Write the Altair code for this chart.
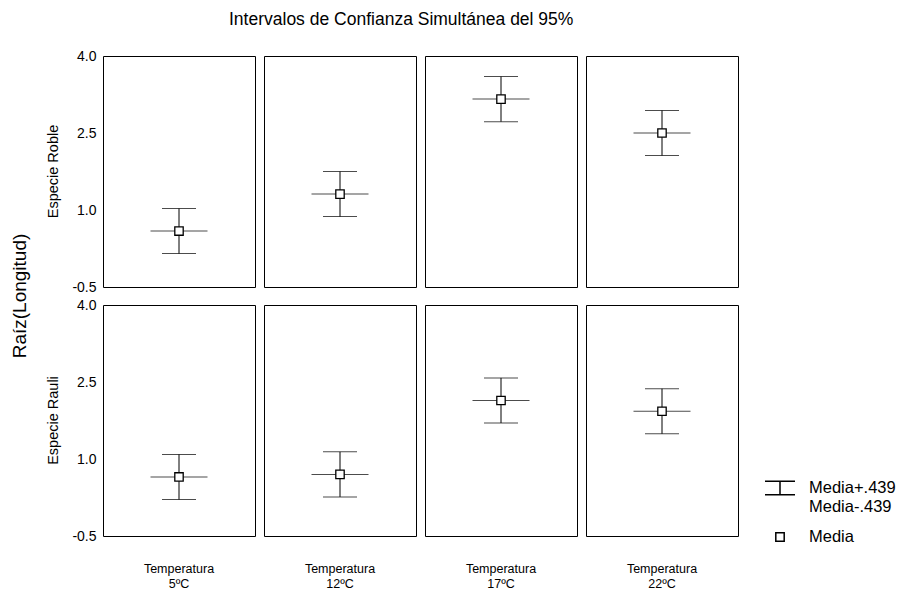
import altair as alt
import pandas as pd

temps = ["5ºC", "12ºC", "17ºC", "22ºC"]
species = ["Especie Roble", "Especie Rauli"]
roble_means = [0.59, 1.31, 3.16, 2.50]
rauli_means = [0.65, 0.70, 2.14, 1.93]
half_width = 0.439
legend_items = ["Media+.439", "Media"]
y_ticks = [-0.5, 1.0, 2.5, 4.0]

rows = []
for sp, means in zip(species, [roble_means, rauli_means]):
    for t, m in zip(temps, means):
        rows.append({"especie": sp, "temp": t, "media": m,
                     "lo": m - half_width, "hi": m + half_width, "leg": "Media"})
df = pd.DataFrame(rows)

FONT = "Liberation Sans"
ysc = alt.Scale(domain=[-0.5, 4.0], nice=False, zero=False)
yax = alt.Axis(values=y_ticks, title=None, grid=False, domain=False,
               ticks=False, labelPadding=6, labelFontSize=14, labelFont=FONT,
               labelColor="black",
               labelExpr="datum.value < 0 ? '-' + format(-datum.value, '.1f') : format(datum.value, '.1f')")
xenc = alt.X("temp:N", axis=None, title=None)

base = alt.Chart()

center_line = base.mark_tick(color="black", size=57, thickness=1).encode(
    x=xenc, y=alt.Y("media:Q", scale=ysc, axis=yax))
caps_hi = base.mark_tick(color="black", size=34, thickness=1).encode(
    x=xenc, y=alt.Y("hi:Q", scale=ysc, axis=yax))
caps_lo = base.mark_tick(color="black", size=34, thickness=1).encode(
    x=xenc, y=alt.Y("lo:Q", scale=ysc, axis=yax))
stem = base.mark_rule(color="black", strokeWidth=1).encode(
    x=xenc, y=alt.Y("lo:Q", scale=ysc, axis=yax), y2="hi:Q")
ibeam = "M-1,-0.45H1M0,-0.45V0.45M-1,0.45H1"
square = "M-0.28,-0.28H0.28V0.28H-0.28Z"
fill_sq = base.mark_point(size=900, shape=square, fill="white", filled=True,
                          opacity=1, strokeWidth=0).encode(
    x=xenc, y=alt.Y("media:Q", scale=ysc, axis=yax))
points = base.mark_point(size=900, filled=False, color="black", strokeWidth=1.3,
                         opacity=1).encode(
    x=xenc, y=alt.Y("media:Q", scale=ysc, axis=yax),
    shape=alt.Shape("leg:N", scale=alt.Scale(domain=legend_items, range=[ibeam, square]),
                    legend=alt.Legend(
                        title=None, orient="none", legendX=661, legendY=416,
                        symbolSize=900, labelFontSize=16.5,
                        labelFont=FONT, labelColor="black", rowPadding=6, labelOffset=13,
                        labelExpr="datum.value == 'Media+.439' ? ['Media+.439', 'Media-.439'] : datum.value")))

layered = alt.layer(center_line, caps_hi, caps_lo, stem, fill_sq, points).properties(
    width=152, height=231)

chart = layered.facet(
    data=df,
    row=alt.Row("especie:N", sort=species, title="Raíz(Longitud)",
                header=alt.Header(labelOrient="left", titleOrient="left", labelAngle=-90,
                                  labelFontSize=14.5, labelFont=FONT, labelColor="black",
                                  titleFontSize=19, titleFont=FONT, titleFontWeight="normal",
                                  titleColor="black", labelPadding=3, titlePadding=6)),
    column=alt.Column("temp:N", sort=temps, title=None,
                      header=alt.Header(labelOrient="bottom", labelFontSize=12.5, labelFont=FONT,
                                        labelColor="black", labelPadding=26,
                                        labelExpr="['Temperatura', datum.value]")),
    spacing={"row": 16, "column": 7},
).resolve_scale(x="independent").properties(
    title=alt.TitleParams("Intervalos de Confianza Simultánea del 95%", fontSize=17.5,
                          font=FONT, fontWeight="normal", color="black", anchor="start",
                          dx=218, offset=21),
    padding={"left": 2, "top": 2, "right": 0, "bottom": 5}
).configure_view(stroke="black", strokeWidth=1)

chart.save("out.html", embed_options={"renderer": "svg", "actions": False})
